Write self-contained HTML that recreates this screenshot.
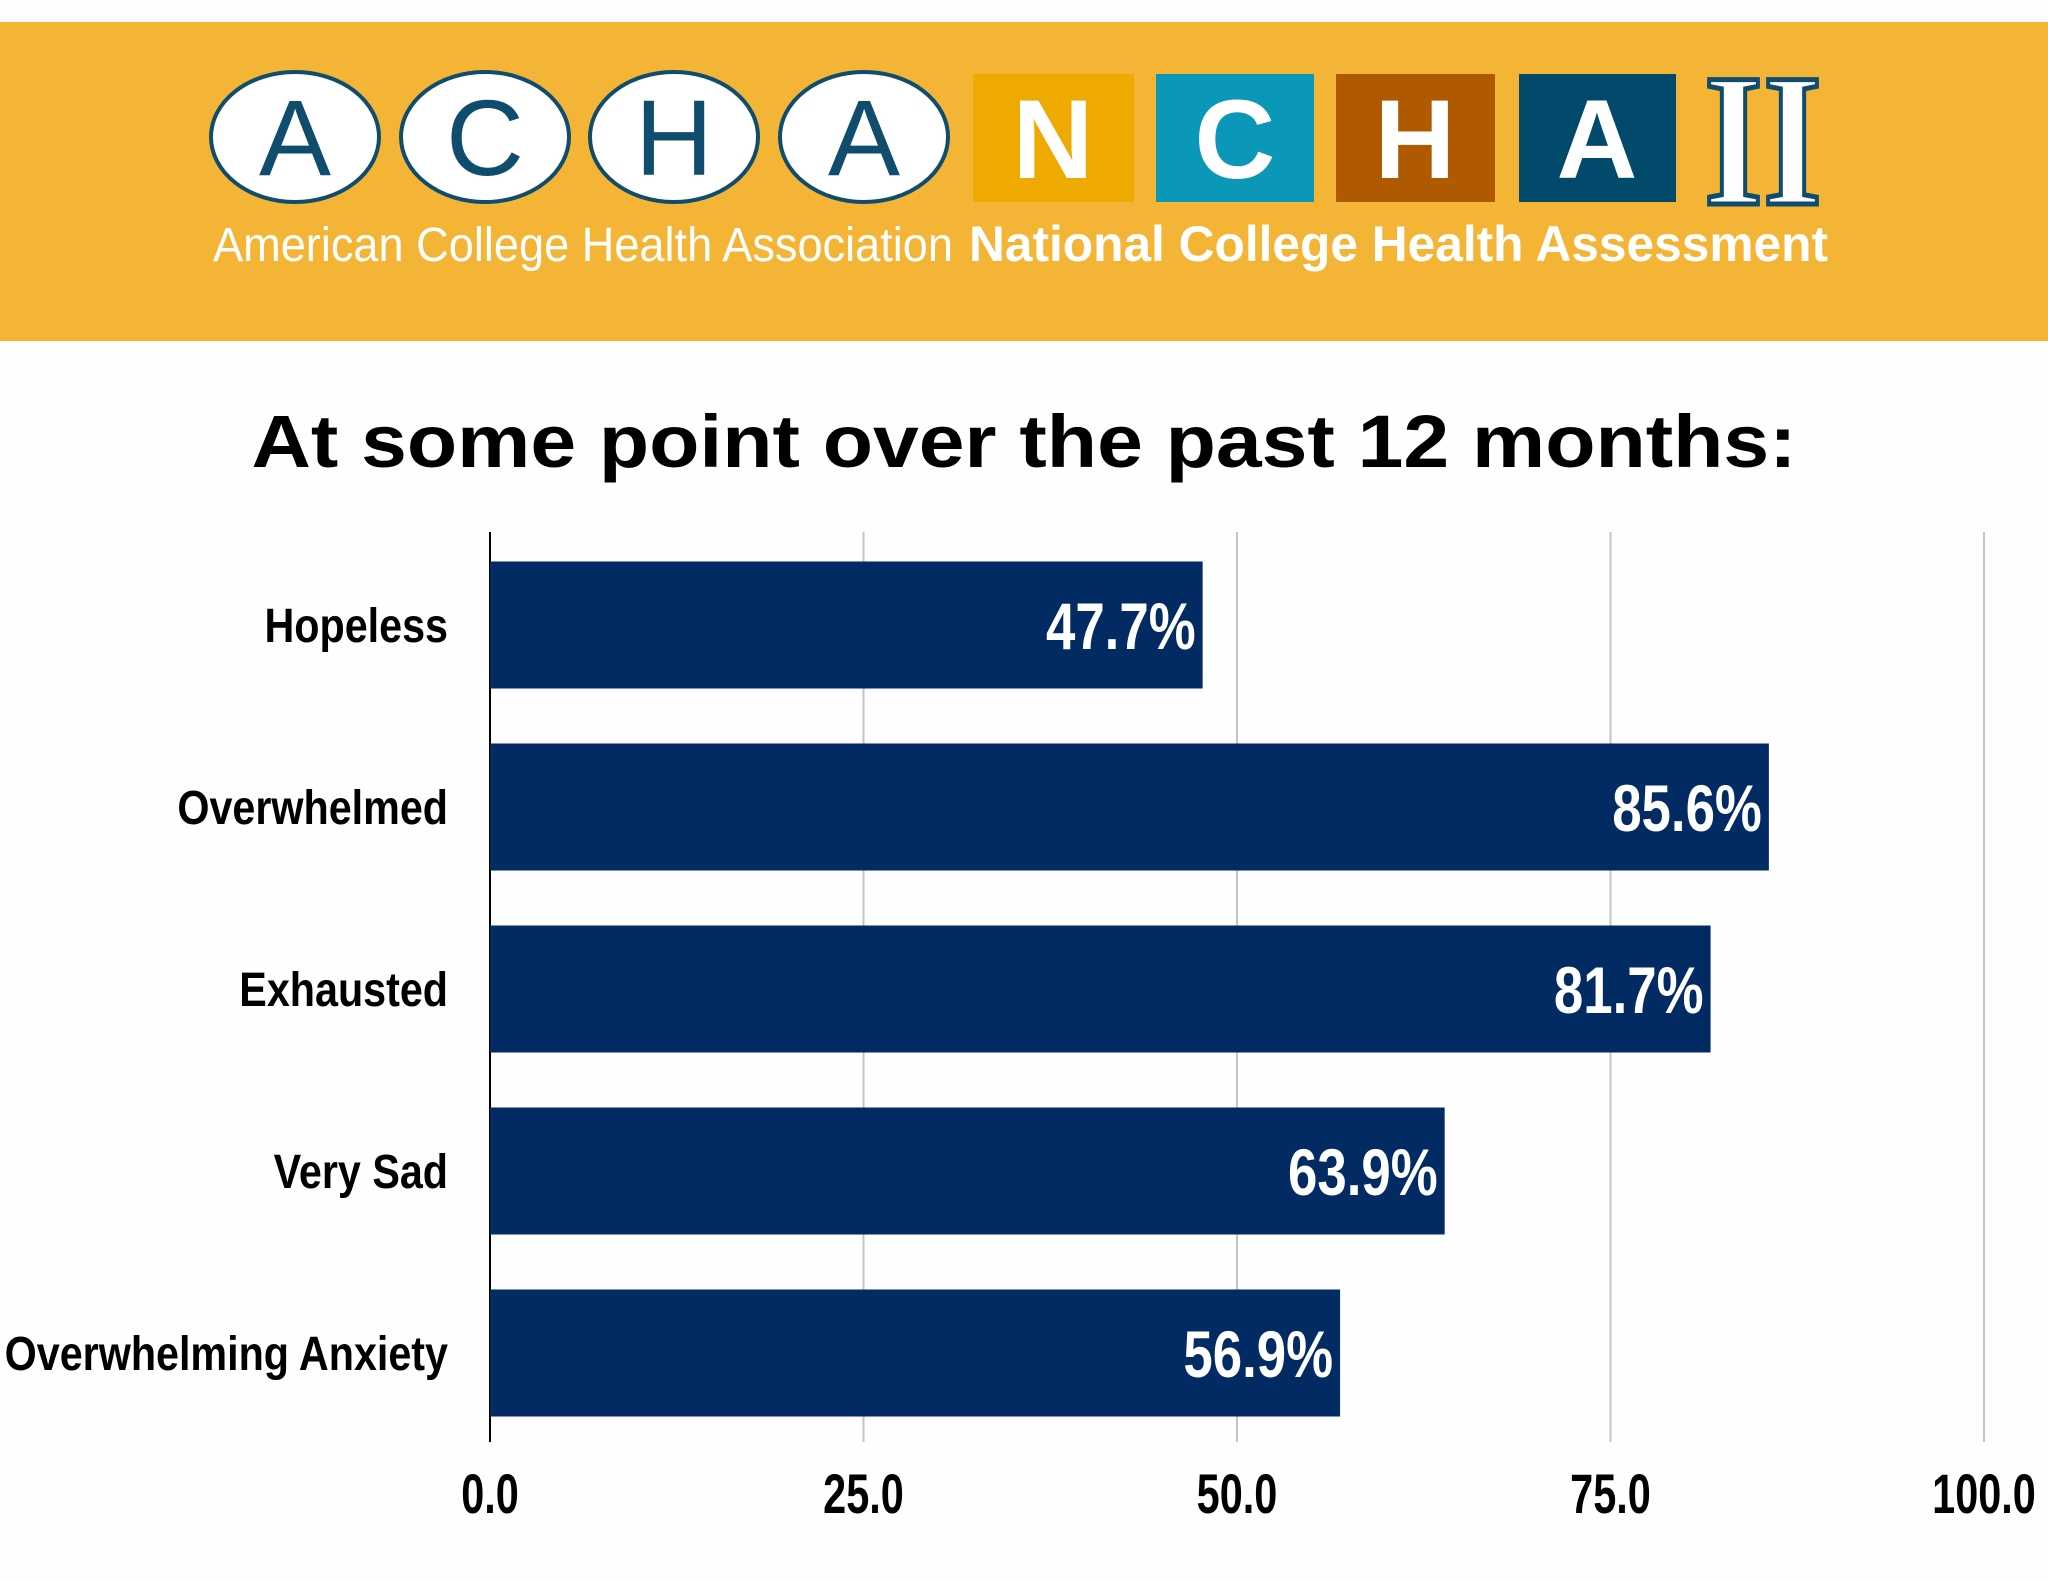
<!DOCTYPE html>
<html><head><meta charset="utf-8"><style>
html,body{margin:0;padding:0;background:#fefefe;}
svg{display:block;font-family:"Liberation Sans",sans-serif;}
.n{font-family:"Liberation Sans",sans-serif;font-weight:bold;}
</style></head><body>
<svg id="chart" width="2048" height="1582" viewBox="0 0 2048 1582">
<rect x="0" y="22" width="2048" height="319" fill="#f4b536"/>
<g>
 <g fill="#fff" stroke="#0f4c6e" stroke-width="4">
  <ellipse cx="295" cy="137" rx="84" ry="65"/><ellipse cx="485" cy="137" rx="84" ry="65"/>
  <ellipse cx="674" cy="137" rx="84" ry="65"/><ellipse cx="864" cy="137" rx="84" ry="65"/>
 </g>
 <g fill="#0f4c6e" font-size="108" text-anchor="middle">
  <text x="295" y="175">A</text><text x="485" y="175">C</text><text x="674" y="175">H</text><text x="864" y="175">A</text>
 </g>
 <rect x="973" y="74" width="161" height="128" fill="#eeaa00"/>
 <rect x="1156" y="74" width="158" height="128" fill="#0a97b8"/>
 <rect x="1336" y="74" width="159" height="128" fill="#b05a00"/>
 <rect x="1519" y="74" width="157" height="128" fill="#024a6c"/>
 <g fill="#fff" font-size="112" font-weight="bold" text-anchor="middle">
  <text x="1053" y="178">N</text><text x="1235" y="178">C</text><text x="1415" y="178">H</text><text x="1597" y="178">A</text>
 </g>
 <text x="1763" y="204" font-family="Liberation Serif,serif" font-weight="bold" font-size="190" fill="#fff" stroke="#0f4c6e" stroke-width="5" text-anchor="middle" textLength="118" lengthAdjust="spacingAndGlyphs">II</text>
 <text x="213" y="261" font-size="48" fill="#fff" textLength="740" lengthAdjust="spacingAndGlyphs">American College Health Association</text>
 <text x="969" y="261" font-size="50" font-weight="bold" fill="#fff" textLength="859" lengthAdjust="spacingAndGlyphs">National College Health Assessment</text>
</g>
<text x="1024" y="467" font-size="74" font-weight="bold" fill="#000" text-anchor="middle" textLength="1545" lengthAdjust="spacingAndGlyphs">At some point over the past 12 months:</text>
<g id="grid"></g><g id="bars"></g><g id="labels"></g>
</svg>
<script>
const categories=["Hopeless","Overwhelmed","Exhausted","Very Sad","Overwhelming Anxiety"];
const values=[47.7,85.6,81.7,63.9,56.9];
const valueLabels=["47.7%","85.6%","81.7%","63.9%","56.9%"];
const ticks=[0,25,50,75,100];
const tickLabels=["0.0","25.0","50.0","75.0","100.0"];
const NS="http://www.w3.org/2000/svg";
const X0=490,X1=1984,YT=532,YB=1442;
const x=v=>X0+(X1-X0)*v/100;
const band=(YB-YT)/categories.length;
const y=i=>YT+band*i;
function mk(t,a,p){const e=document.createElementNS(NS,t);for(const k in a)e.setAttribute(k,a[k]);p.appendChild(e);return e;}
const grid=document.getElementById('grid'),bars=document.getElementById('bars'),labels=document.getElementById('labels');
ticks.forEach((t,i)=>{
 if(i>0){const l=mk('line',{x1:x(t),x2:x(t),y1:YT,y2:YB,stroke:'#c4c4c4','stroke-width':2},grid);
 
 }
 const tx=mk('text',{x:0,y:0,transform:`translate(${x(t)},1513) scale(0.74,1)`,'text-anchor':'middle','font-size':56,class:'n',fill:'#000'},labels);
 tx.textContent=tickLabels[i];
 
 
});
const ax=mk('line',{x1:X0,x2:X0,y1:YT,y2:YB,stroke:'#000','stroke-width':2},grid);


categories.forEach((c,i)=>{
 const bh=127,by=y(i)+(band-bh)/2+2;
 const r=mk('rect',{x:X0,y:by,width:x(values[i])-X0,height:bh,fill:'#032b63'},bars);
 
 
 const v=mk('text',{x:0,y:0,transform:`translate(${x(values[i])-7},${by+bh/2+24}) scale(0.8,1)`,'text-anchor':'end','font-size':66,class:'n',fill:'#fff'},labels);
 v.textContent=valueLabels[i];
 
 
 const l=mk('text',{x:0,y:0,transform:`translate(448,${by+bh/2+17}) scale(0.86,1)`,'text-anchor':'end','font-size':48,class:'n',fill:'#000'},labels);
 l.textContent=c;
 
 
});
</script>
</body></html>
